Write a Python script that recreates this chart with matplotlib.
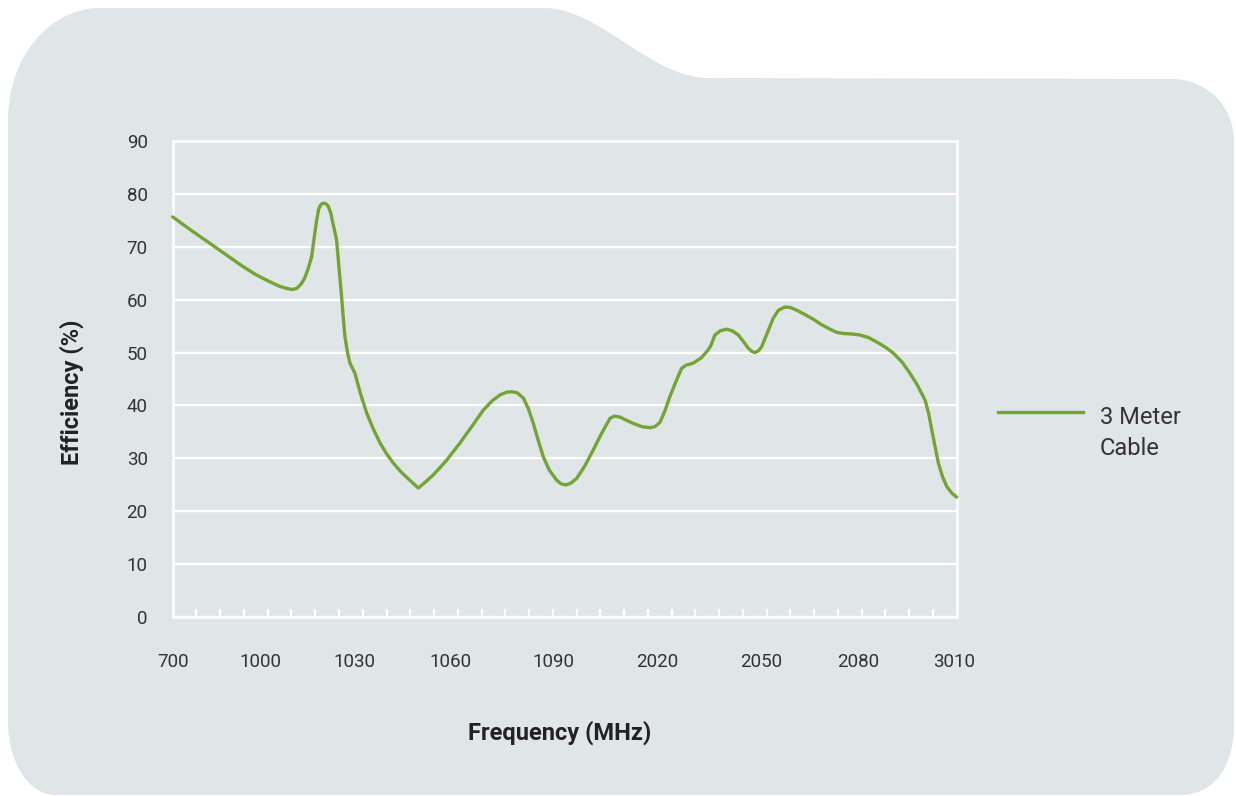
import matplotlib
matplotlib.use("Agg")
import matplotlib.pyplot as plt
from matplotlib.path import Path
from matplotlib.patches import PathPatch
from matplotlib.lines import Line2D

# ---------------- data ----------------
x_tick_labels = ['700', '1000', '1030', '1060', '1090', '2020', '2050', '2080', '3010']
y_ticks = [0, 10, 20, 30, 40, 50, 60, 70, 80, 90]

# position along the frequency axis (in minor-tick units, 0..33)
freq_pos = [0.0, 0.8, 1.57, 2.3, 2.97, 3.5, 4.07, 4.5, 4.8, 5.01, 5.22, 5.40, 5.55, 5.70,
            5.85, 5.95, 6.06, 6.15, 6.25, 6.34, 6.45, 6.55, 6.65, 6.75, 6.90, 7.0, 7.11,
            7.18, 7.25, 7.35, 7.46, 7.67, 7.9, 8.17, 8.45, 8.73, 9.0, 9.29, 9.6, 9.95,
            10.34, 10.65, 10.97, 11.5, 12.09, 12.6, 13.07, 13.45, 13.78, 14.05, 14.27,
            14.5, 14.76, 14.97, 15.18, 15.40, 15.60, 15.85, 16.16, 16.35, 16.54, 16.75,
            17.00, 17.35, 17.70, 18.05, 18.41, 18.6, 18.83, 19.1, 19.39, 19.75, 20.09,
            20.3, 20.51, 20.72, 20.93, 21.18, 21.42, 21.6, 21.91, 22.25, 22.54, 22.65,
            22.82, 23.05, 23.32, 23.55, 23.81, 24.0, 24.23, 24.38, 24.51, 24.65, 24.79,
            25.0, 25.28, 25.5, 25.77, 26.0, 26.26, 26.6, 26.96, 27.3, 27.67, 27.95,
            28.23, 28.6, 28.93, 29.3, 29.63, 30.0, 30.33, 30.7, 31.03, 31.35, 31.67,
            31.82, 31.95, 32.1, 32.23, 32.4, 32.58, 32.8, 33.0]
efficiency = [75.6, 73.0, 70.6, 68.3, 66.2, 64.7, 63.4, 62.5, 62.1, 61.9, 62.1, 62.9, 64.0,
              65.8, 68.1, 71.5, 75.0, 77.2, 78.0, 78.2, 78.1, 77.6, 76.4, 74.3, 71.2, 66.0,
              60.5, 56.5, 53.0, 50.2, 48.0, 46.1, 42.3, 38.5, 35.5, 32.9, 30.9, 29.1, 27.5,
              26.0, 24.4, 25.6, 26.9, 29.5, 32.9, 36.1, 39.1, 40.9, 42.0, 42.5, 42.6,
              42.4, 41.4, 39.4, 36.6, 33.2, 30.3, 27.8, 25.9, 25.2, 25.0, 25.3,
              26.2, 28.6, 31.6, 34.7, 37.6, 38.0, 37.8, 37.2, 36.6, 36.0, 35.8,
              36.0, 36.8, 39.0, 41.7, 44.5, 47.0, 47.6, 48.0, 49.0, 50.5, 51.3,
              53.3, 54.1, 54.4, 54.1, 53.3, 52.2, 50.8, 50.2, 50.0, 50.3, 51.1,
              53.4, 56.5, 58.0, 58.6, 58.5, 58.0, 57.2, 56.3, 55.3, 54.4, 53.8,
              53.6, 53.5, 53.3, 52.8, 52.0, 51.0, 49.9, 48.2, 46.1, 43.8, 41.0,
              38.5, 35.4, 32.0, 29.1, 26.6, 24.7, 23.4, 22.7]
series_name = '3 Meter\nCable'

# label positions along the axis (layout)
x_label_pos = [0, 3.69, 7.63, 11.69, 16.04, 20.38, 24.79, 28.84, 32.9]

# ---------------- style ----------------
BG = '#e0e5e7'
GREEN = '#74a534'
TXT = '#333333'
plt.rcParams['font.family'] = ['Roboto', 'DejaVu Sans']

W, H = 1236, 796
fig = plt.figure(figsize=(W / 100, H / 100), dpi=100)
fig.patch.set_facecolor('white')

# background shape (pixel coordinates, y down)
axbg = fig.add_axes([0, 0, 1, 1], zorder=-5)
axbg.set_xlim(0, W)
axbg.set_ylim(H, 0)
axbg.axis('off')
verts = [
    (8, 120),
    (8, 58), (49, 8), (100, 8),
    (544, 8),
    (600, 8), (650, 78), (709, 78),
    (1171, 79),
    (1207, 79), (1234, 106), (1234, 142),
    (1234, 725),
    (1234, 765), (1215, 795), (1180, 795),
    (55, 795),
    (29, 795), (8, 762), (8, 722),
    (8, 120),
]
codes = [Path.MOVETO,
         Path.CURVE4, Path.CURVE4, Path.CURVE4,
         Path.LINETO,
         Path.CURVE4, Path.CURVE4, Path.CURVE4,
         Path.LINETO,
         Path.CURVE4, Path.CURVE4, Path.CURVE4,
         Path.LINETO,
         Path.CURVE4, Path.CURVE4, Path.CURVE4,
         Path.LINETO,
         Path.CURVE4, Path.CURVE4, Path.CURVE4,
         Path.CLOSEPOLY]
axbg.add_patch(PathPatch(Path(verts, codes), facecolor=BG, edgecolor='none'))

# main axes
ax = fig.add_axes([172.7 / W, 1 - 617.3 / H, (956.7 - 172.7) / W, (617.3 - 140.7) / H])
ax.set_facecolor('none')
ax.set_xlim(0, 33)
ax.set_ylim(0, 90)

ax.set_yticks(y_ticks)
ax.set_yticklabels([str(v) for v in y_ticks])
ax.grid(axis='y', color='white', linewidth=1.6, zorder=1)
ax.set_axisbelow(True)

ax.set_xticks(x_label_pos)
ax.set_xticklabels(x_tick_labels)
ax.set_xticks(list(range(1, 33)), minor=True)
ax.tick_params(axis='x', which='major', length=0, pad=26, labelsize=13.5, labelcolor=TXT)
ax.tick_params(axis='x', which='minor', length=5.5, width=1.6, color='white', direction='in')
ax.tick_params(axis='y', which='major', length=0, pad=18, labelsize=13.5, labelcolor=TXT)

for s in ax.spines.values():
    s.set_color('white')
    s.set_linewidth(1.8)

line, = ax.plot(freq_pos, efficiency, color=GREEN, linewidth=2.4,
                solid_joinstyle='round', solid_capstyle='round', zorder=3, clip_on=False)

# axis titles
fig.text(560 / W, 1 - 733 / H, 'Frequency (MHz)', ha='center', va='center',
         fontsize=17, fontweight='bold', color='#222222')
fig.text(72 / W, 1 - 392 / H, 'Efficiency (%)', ha='center', va='center', rotation=90,
         fontsize=17, fontweight='bold', color='#222222')

# legend (drawn manually so the key aligns with the first text line)
fig.add_artist(Line2D([998 / W, 1083 / W], [1 - 411.7 / H, 1 - 411.7 / H],
                      transform=fig.transFigure, color=GREEN, linewidth=2.4))
fig.text(1100 / W, 1 - 433 / H, series_name, ha='left', va='center',
         fontsize=17, color=TXT, linespacing=1.4)

fig.savefig('out.png', dpi=100, facecolor='white')
